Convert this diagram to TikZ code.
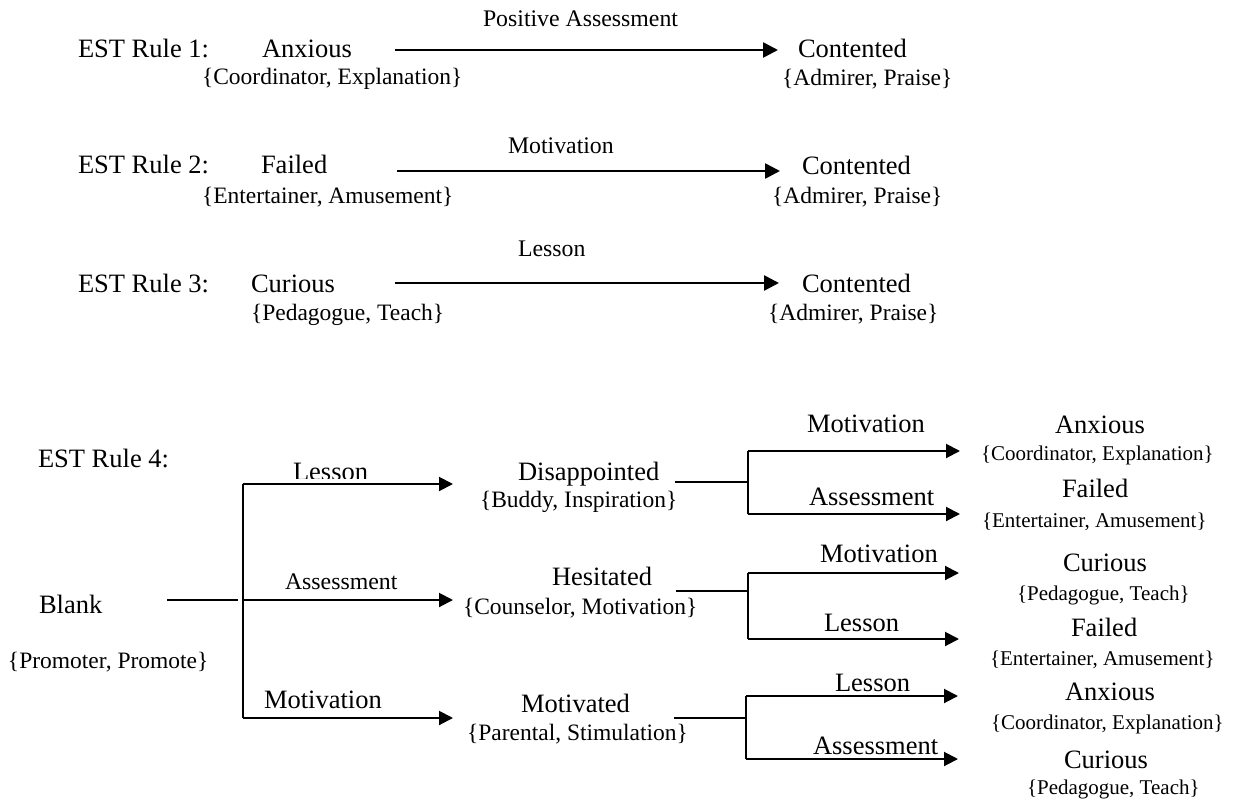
\documentclass[tikz,border=0pt]{standalone}
\usepackage{fontspec}
\setmainfont{Liberation Serif}
\usetikzlibrary{arrows.meta}
\begin{document}
\begin{tikzpicture}[x=1pt,y=-1pt,
  every node/.style={inner sep=0pt, outer sep=0pt, anchor=base west},
  stname/.style={font=\fontsize{26.5}{30}\selectfont},
  attr/.style={font=\fontsize{23.5}{27}\selectfont},
  attrs/.style={font=\fontsize{21}{25}\selectfont},
  elab/.style={font=\fontsize{23.8}{27}\selectfont},
  elabL/.style={font=\fontsize{26.5}{30}\selectfont},
  toparrow/.style={line width=2.6pt, -{Triangle[length=15pt,width=15pt]}},
  treeline/.style={line width=2pt},
  treearrow/.style={line width=2pt, -{Triangle[length=14pt,width=14pt]}},
]
\useasboundingbox (0,0) rectangle (1234,803);

% ---------- Rule 1 ----------
\node[stname] (r1) at (78,57) {EST Rule 1:};
\node[stname] (r1a) at (262,57) {Anxious};
\node[attr] (r1aa) at (202,84) {\{Coordinator, Explanation\}};
\node[elab] (r1e) at (483,27) {Positive Assessment};
\node[stname] (r1b) at (798,57) {Contented};
\node[attr] (r1ba) at (782,85) {\{Admirer, Praise\}};
\coordinate (r1s) at (395,50);
\coordinate (r1t) at (778,50);
\draw[toparrow] (r1s) -- (r1t);

% ---------- Rule 2 ----------
\node[stname] (r2) at (78,173) {EST Rule 2:};
\node[stname] (r2a) at (261,173) {Failed};
\node[attr] (r2aa) at (202,203) {\{Entertainer, Amusement\}};
\node[elab] (r2e) at (508,153) {Motivation};
\node[stname] (r2b) at (802,174) {Contented};
\node[attr] (r2ba) at (772,203) {\{Admirer, Praise\}};
\coordinate (r2s) at (397,171);
\coordinate (r2t) at (780,171);
\draw[toparrow] (r2s) -- (r2t);

% ---------- Rule 3 ----------
\node[stname] (r3) at (78,292) {EST Rule 3:};
\node[stname] (r3a) at (251,292) {Curious};
\node[attr] (r3aa) at (251,320) {\{Pedagogue, Teach\}};
\node[elab] (r3e) at (518,256) {Lesson};
\node[stname] (r3b) at (802,292) {Contented};
\node[attr] (r3ba) at (768,320) {\{Admirer, Praise\}};
\coordinate (r3s) at (395,283);
\coordinate (r3t) at (779,283);
\draw[toparrow] (r3s) -- (r3t);

% ---------- Rule 4 ----------
\node[stname] (r4) at (38,467) {EST Rule 4:};
\node[stname] (bl) at (39,613) {Blank};
\node[attr] (bla) at (8,668) {\{Promoter, Promote\}};

\coordinate (b0) at (167,600);
\coordinate (b1) at (238,600);
\coordinate (jt) at (243,484);
\coordinate (jm) at (243,600);
\coordinate (jb) at (243,718);
\coordinate (t1) at (453,484);
\coordinate (t2) at (453,600);
\coordinate (t3) at (453,718);
\draw[treeline] (b0) -- (b1);
\draw[treeline] (jt) -- (jb);
\draw[treearrow] (jt) -- (t1);
\draw[treearrow] (jm) -- (t2);
\draw[treearrow] (jb) -- (t3);
\begin{scope}
  \clip (280,440) rectangle (390,478.5);
  \node[elabL] (l1) at (293,480) {Lesson};
\end{scope}
\node[elab] (l2) at (285,589) {Assessment};
\node[elabL] (l3) at (264,708) {Motivation};

\node[stname] (dis) at (518,480) {Disappointed};
\node[attr] (disa) at (480,507) {\{Buddy, Inspiration\}};
\node[stname] (hes) at (552,585) {Hesitated};
\node[attr] (hesa) at (463,614) {\{Counselor, Motivation\}};
\node[stname] (mot) at (521,712) {Motivated};
\node[attr] (mota) at (467,740) {\{Parental, Stimulation\}};

% branch from Disappointed
\coordinate (d0) at (675,482);
\coordinate (d1) at (748,482);
\coordinate (dt) at (748,451);
\coordinate (db) at (748,514);
\coordinate (dtt) at (960,451);
\coordinate (dbt) at (960,514);
\draw[treeline] (d0) -- (d1);
\draw[treeline] (dt) -- (db);
\draw[treearrow] (dt) -- (dtt);
\draw[treearrow] (db) -- (dbt);
\node[elabL] (dl1) at (807,432) {Motivation};
\node[elabL] (dl2) at (809,505) {Assessment};

% branch from Hesitated
\coordinate (h0) at (676,591);
\coordinate (h1) at (748,591);
\coordinate (ht) at (748,573);
\coordinate (hb) at (748,639);
\coordinate (htt) at (959,573);
\coordinate (hbt) at (959,639);
\draw[treeline] (h0) -- (h1);
\draw[treeline] (ht) -- (hb);
\draw[treearrow] (ht) -- (htt);
\draw[treearrow] (hb) -- (hbt);
\node[elabL] (hl1) at (820,562) {Motivation};
\node[elabL] (hl2) at (824,631) {Lesson};

% branch from Motivated
\coordinate (m0) at (674,718);
\coordinate (m1) at (746,718);
\coordinate (mt) at (746,696);
\coordinate (mb) at (746,759);
\coordinate (mtt) at (958,696);
\coordinate (mbt) at (958,759);
\draw[treeline] (m0) -- (m1);
\draw[treeline] (mt) -- (mb);
\draw[treearrow] (mt) -- (mtt);
\draw[treearrow] (mb) -- (mbt);
\node[elabL] (ml1) at (835,691) {Lesson};
\node[elabL] (ml2) at (813,754) {Assessment};

% right column
\node[stname] (e1) at (1055,433) {Anxious};
\node[attrs] (e1a) at (981,460) {\{Coordinator, Explanation\}};
\node[stname] (e2) at (1062,497) {Failed};
\node[attrs] (e2a) at (982,527) {\{Entertainer, Amusement\}};
\node[stname] (e3) at (1063,571) {Curious};
\node[attrs] (e3a) at (1017,600) {\{Pedagogue, Teach\}};
\node[stname] (e4) at (1071,636) {Failed};
\node[attrs] (e4a) at (990,665) {\{Entertainer, Amusement\}};
\node[stname] (e5) at (1065,700) {Anxious};
\node[attrs] (e5a) at (991,729) {\{Coordinator, Explanation\}};
\node[stname] (e6) at (1064,768) {Curious};
\node[attrs] (e6a) at (1027,794) {\{Pedagogue, Teach\}};
\end{tikzpicture}
\end{document}
